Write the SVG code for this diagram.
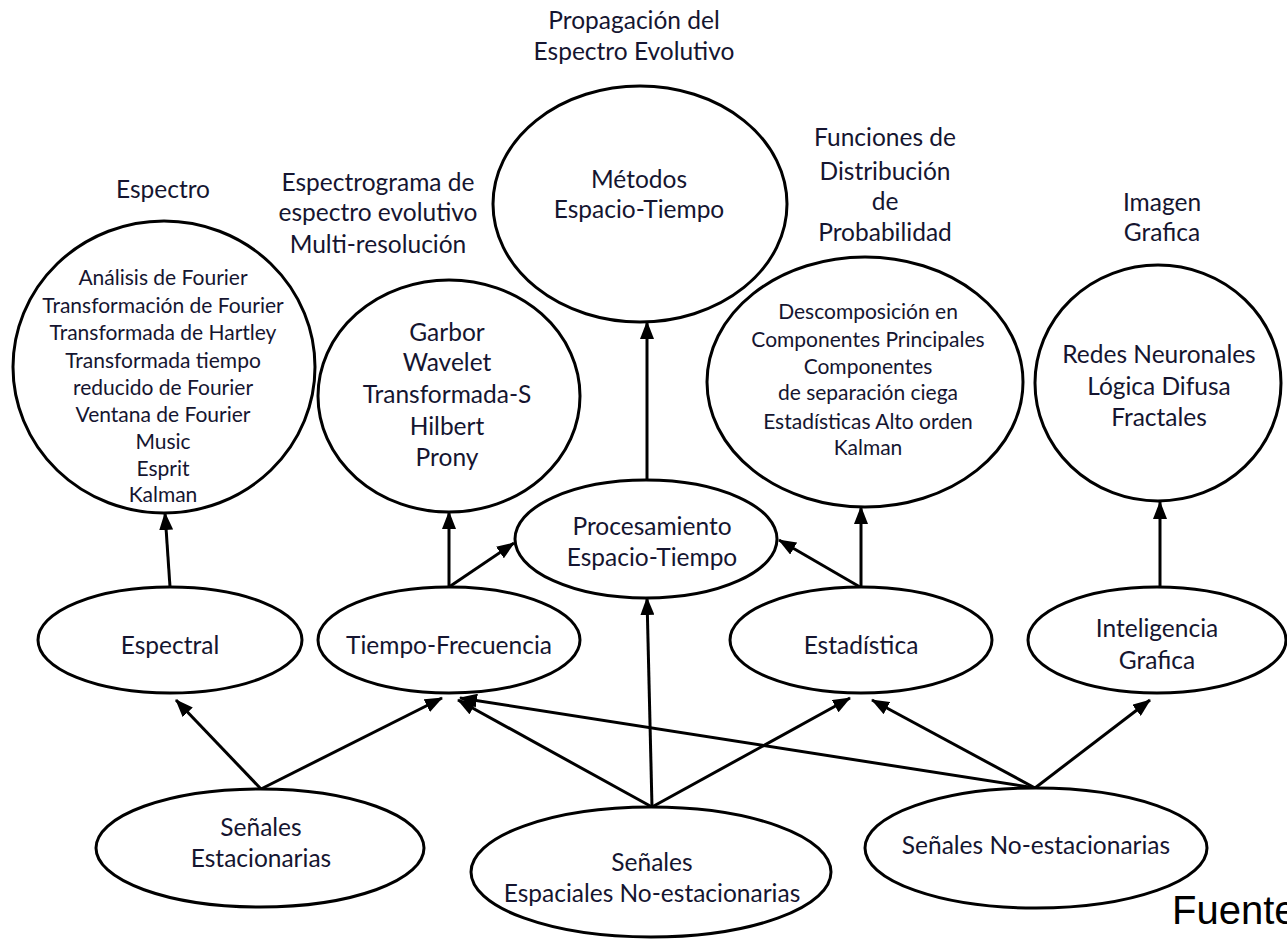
<svg xmlns="http://www.w3.org/2000/svg" width="1287" height="941" viewBox="0 0 1287 941">
<style>
.n{fill:#fff;stroke:#000;stroke-width:3}
.t{font-family:Lato,"Liberation Sans",sans-serif;fill:#151530;text-anchor:middle;font-size:24.5px}
.s{font-size:21px}
.c line{stroke:#000;stroke-width:3;marker-end:url(#ah)}
.f{font-family:"Liberation Sans",Arial,sans-serif;font-size:40px;fill:#000}
</style>
<defs>
<marker id="ah" markerUnits="userSpaceOnUse" markerWidth="18" markerHeight="14" refX="17" refY="7" orient="auto">
<path d="M0,0 L18,7 L0,14 z" fill="#000"/>
</marker>
</defs>
<g id="labels" class="t">
<text x="634" y="29">Propagación del</text>
<text x="634" y="60">Espectro Evolutivo</text>
<text x="163" y="198">Espectro</text>
<text x="378" y="191">Espectrograma de</text>
<text x="378" y="221">espectro evolutivo</text>
<text x="378" y="253">Multi-resolución</text>
<text x="885" y="146">Funciones de</text>
<text x="885" y="180">Distribución</text>
<text x="885" y="210">de</text>
<text x="885" y="241">Probabilidad</text>
<text x="1162" y="211">Imagen</text>
<text x="1162" y="241">Grafica</text>
</g>
<g id="connectors" class="c">
<line x1="170" y1="587" x2="165" y2="513"/>
<line x1="449" y1="587" x2="449" y2="512"/>
<line x1="449" y1="587" x2="514" y2="543"/>
<line x1="647" y1="480" x2="647" y2="322"/>
<line x1="860" y1="587" x2="779" y2="540"/>
<line x1="861" y1="587" x2="861" y2="507"/>
<line x1="1160" y1="587" x2="1160" y2="502"/>
<line x1="261" y1="789" x2="176" y2="700"/>
<line x1="261" y1="789" x2="442" y2="698"/>
<line x1="652" y1="807" x2="458" y2="700"/>
<line x1="652" y1="807" x2="647" y2="598"/>
<line x1="652" y1="807" x2="850" y2="698"/>
<line x1="1035" y1="788" x2="872" y2="700"/>
<line x1="1035" y1="788" x2="1150" y2="700"/>
<line x1="1035" y1="788" x2="460" y2="698"/>
</g>
<g id="espectro">
<ellipse class="n" cx="164" cy="367" rx="151" ry="146"/>
<g class="t s">
<text x="163" y="285">Análisis de Fourier</text>
<text x="163" y="313">Transformación de Fourier</text>
<text x="163" y="340">Transformada de Hartley</text>
<text x="163" y="368">Transformada tiempo</text>
<text x="163" y="395">reducido de Fourier</text>
<text x="163" y="422">Ventana de Fourier</text>
<text x="163" y="449">Music</text>
<text x="163" y="476">Esprit</text>
<text x="163" y="502">Kalman</text>
</g>
</g>
<g id="garbor">
<ellipse class="n" cx="449" cy="396" rx="131" ry="116"/>
<g class="t">
<text x="447" y="341">Garbor</text>
<text x="447" y="371">Wavelet</text>
<text x="447" y="403">Transformada-S</text>
<text x="447" y="435">Hilbert</text>
<text x="447" y="466">Prony</text>
</g>
</g>
<g id="metodos">
<ellipse class="n" cx="640" cy="204" rx="147" ry="118"/>
<text class="t" x="639" y="188">Métodos</text>
<text class="t" x="639" y="218">Espacio-Tiempo</text>
</g>
<g id="descomposicion">
<ellipse class="n" cx="865" cy="382" rx="158" ry="125"/>
<g class="t s">
<text x="868" y="319">Descomposición en</text>
<text x="868" y="347">Componentes Principales</text>
<text x="868" y="374">Componentes</text>
<text x="868" y="400">de separación ciega</text>
<text x="868" y="429">Estadísticas Alto orden</text>
<text x="868" y="455">Kalman</text>
</g>
</g>
<g id="redes">
<ellipse class="n" cx="1158" cy="383" rx="123" ry="118"/>
<g class="t">
<text x="1159" y="363">Redes Neuronales</text>
<text x="1159" y="395">Lógica Difusa</text>
<text x="1159" y="426">Fractales</text>
</g>
</g>
<g id="procesamiento">
<ellipse class="n" cx="646" cy="539" rx="131" ry="59"/>
<text class="t" x="652" y="535">Procesamiento</text>
<text class="t" x="652" y="566">Espacio-Tiempo</text>
</g>
<g id="espectral">
<ellipse class="n" cx="170" cy="640" rx="132" ry="53"/>
<text class="t" x="170" y="654">Espectral</text>
</g>
<g id="tiempo-frecuencia">
<ellipse class="n" cx="449" cy="640" rx="131" ry="53"/>
<text class="t" x="449" y="654">Tiempo-Frecuencia</text>
</g>
<g id="estadistica">
<ellipse class="n" cx="861" cy="640" rx="131" ry="53"/>
<text class="t" x="861" y="654">Estadística</text>
</g>
<g id="inteligencia">
<ellipse class="n" cx="1157" cy="640" rx="129" ry="53"/>
<text class="t" x="1157" y="637">Inteligencia</text>
<text class="t" x="1157" y="669">Grafica</text>
</g>
<g id="estacionarias">
<ellipse class="n" cx="260" cy="848" rx="164" ry="59"/>
<text class="t" x="261" y="836">Señales</text>
<text class="t" x="261" y="867">Estacionarias</text>
</g>
<g id="espaciales">
<ellipse class="n" cx="651" cy="872" rx="180" ry="65"/>
<text class="t" x="652" y="871">Señales</text>
<text class="t" x="652" y="902">Espaciales No-estacionarias</text>
</g>
<g id="no-estacionarias">
<ellipse class="n" cx="1036" cy="848" rx="171" ry="60"/>
<text class="t" x="1036" y="854">Señales No-estacionarias</text>
</g>
<text class="f" x="1172" y="924">Fuente</text>
</svg>
